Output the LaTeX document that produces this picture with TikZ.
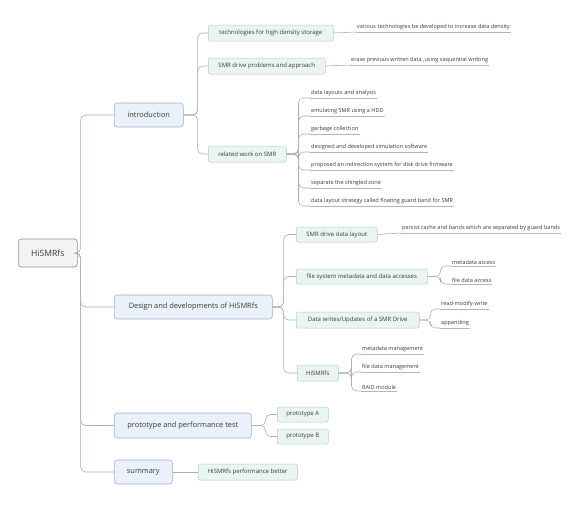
\documentclass[tikz,border=0pt]{standalone}
\usepackage{fontspec}
\setmainfont{Open Sans}
\definecolor{txt}{HTML}{3A3A3A}
\definecolor{lnc}{HTML}{A8B0B8}
\definecolor{rootfill}{HTML}{F4F2F2}
\definecolor{rootdraw}{HTML}{8F8F8F}
\definecolor{lonefill}{HTML}{EAF1FA}
\definecolor{lonedraw}{HTML}{9EB2C8}
\definecolor{ltwofill}{HTML}{EAF5EF}
\definecolor{ltwodraw}{HTML}{AFD3C3}
\definecolor{ulc}{HTML}{B5B5B5}
\begin{document}
\begin{tikzpicture}[x=1pt,y=-1pt,
  every node/.style={text=txt, inner sep=0pt},
  rootbox/.style={draw=rootdraw, fill=rootfill, rounded corners=3pt, line width=0.6pt, font=\fontsize{8.6}{10}\selectfont, anchor=west},
  lonebox/.style={draw=lonedraw, fill=lonefill, rounded corners=3pt, line width=0.6pt, font=\fontsize{7.4}{9}\selectfont, anchor=west},
  ltwobox/.style={draw=ltwodraw, fill=ltwofill, rounded corners=2pt, line width=0.5pt, font=\fontsize{6.0}{7}\selectfont, anchor=west},
  leaf/.style={anchor=south west, inner xsep=1pt, inner ysep=1.6pt, font=\fontsize{5.55}{6.5}\selectfont},
  conn/.style={draw=lnc, line width=0.6pt, rounded corners=5pt},
  uline/.style={draw=ulc, line width=0.5pt}
]
\useasboundingbox (0,0) rectangle (581,507);

% root and level 1
\node[rootbox, minimum width=59, minimum height=28] (root) at (18,253) {HiSMRfs};
\node[lonebox, minimum width=69, minimum height=24] (intro) at (114,115) {introduction};
\node[lonebox, minimum width=158, minimum height=24] (design) at (114,307) {Design and developments of HiSMRfs};
\node[lonebox, minimum width=137, minimum height=25] (proto) at (114,425.5) {prototype and performance test};
\node[lonebox, minimum width=58, minimum height=24] (summ) at (114,472) {summary};

% level 2
\node[ltwobox, minimum width=125, minimum height=16] (tech) at (208,33) {technologies for high density storage};
\node[ltwobox, minimum width=117, minimum height=16] (prob) at (208,66) {SMR drive problems and approach};
\node[ltwobox, minimum width=78, minimum height=16] (rel) at (208,154) {related work on SMR};
\node[ltwobox, minimum width=81, minimum height=15] (lay) at (296,234.5) {SMR drive data layout};
\node[ltwobox, minimum width=131, minimum height=15] (fsm) at (296,276.5) {file system metadata and data accesses};
\node[ltwobox, minimum width=123, minimum height=16] (wri) at (296,320) {Data writes/Updates of a SMR Drive};
\node[ltwobox, minimum width=41, minimum height=16] (his) at (297,373) {HiSMRfs};
\node[ltwobox, minimum width=51, minimum height=15] (pa) at (277,414.5) {prototype A};
\node[ltwobox, minimum width=51, minimum height=15] (pb) at (277,436.5) {prototype B};
\node[ltwobox, minimum width=99, minimum height=16] (perf) at (198,472) {HiSMRfs performance better};

% leaves
\node[leaf] (v) at (356,32) {various technologies be developed to increase data density};
\node[leaf] (e) at (350,65) {erase previous written data ,using sequential writting};
\node[leaf] (r1) at (310,98) {data layouts and analysis};
\node[leaf] (r2) at (310,116) {emulating SMR using a HDD};
\node[leaf] (r3) at (310,134) {garbage collection};
\node[leaf] (r4) at (310,152) {designed and developed simulation software};
\node[leaf] (r5) at (310,170) {proposed an indirection system for disk drive firmware};
\node[leaf] (r6) at (310,188) {separate the shingled zone};
\node[leaf] (r7) at (310,206) {data layout strategy called floating guard band for SMR};
\node[leaf] (pc) at (401,233) {persist cache and bands which are separated by guard bands};
\node[leaf] (ma) at (451,266) {metadata access};
\node[leaf] (fa) at (451,284) {file data access};
\node[leaf] (rmw) at (440,309) {read-modify-write};
\node[leaf] (app) at (440,328) {appending};
\node[leaf] (mm) at (361,354) {metadata management};
\node[leaf] (fdm) at (361,372) {file data management};
\node[leaf] (raid) at (361,391) {RAID module};

% connectors root -> level 1
\foreach \c in {intro,design,proto,summ}
  \draw[conn] (root.east) -- ++(3,0) |- (\c.west);

% level 1 -> level 2
\foreach \c in {tech,prob,rel}
  \draw[conn] (intro.east) -- ++(14,0) |- (\c.west);
\foreach \c in {lay,fsm,wri,his}
  \draw[conn] (design.east) -- ++(11,0) |- (\c.west);
\foreach \c in {pa,pb}
  \draw[conn] (proto.east) -- ++(14,0) |- (\c.west);
\draw[conn] (summ.east) -- (perf.west);

% level 2 -> leaves
\draw[conn] (tech.east) -- (v.south west);
\draw[conn] (prob.east) -- (e.south west);
\foreach \c in {r1,r2,r3,r4,r5,r6,r7}
  \draw[conn] (rel.east) -- ++(12,0) |- (\c.south west);
\draw[conn] (lay.east) -- (pc.south west);
\foreach \c in {ma,fa}
  \draw[conn] (fsm.east) -- ++(13,0) |- (\c.south west);
\foreach \c in {rmw,app}
  \draw[conn] (wri.east) -- ++(11,0) |- (\c.south west);
\foreach \c in {mm,fdm,raid}
  \draw[conn] (his.east) -- ++(13,0) |- (\c.south west);

% underlines
\foreach \c in {v,e,r1,r2,r3,r4,r5,r6,r7,pc,ma,fa,rmw,app,mm,fdm,raid}
  \draw[uline] (\c.south west) -- (\c.south east);
\end{tikzpicture}
\end{document}
